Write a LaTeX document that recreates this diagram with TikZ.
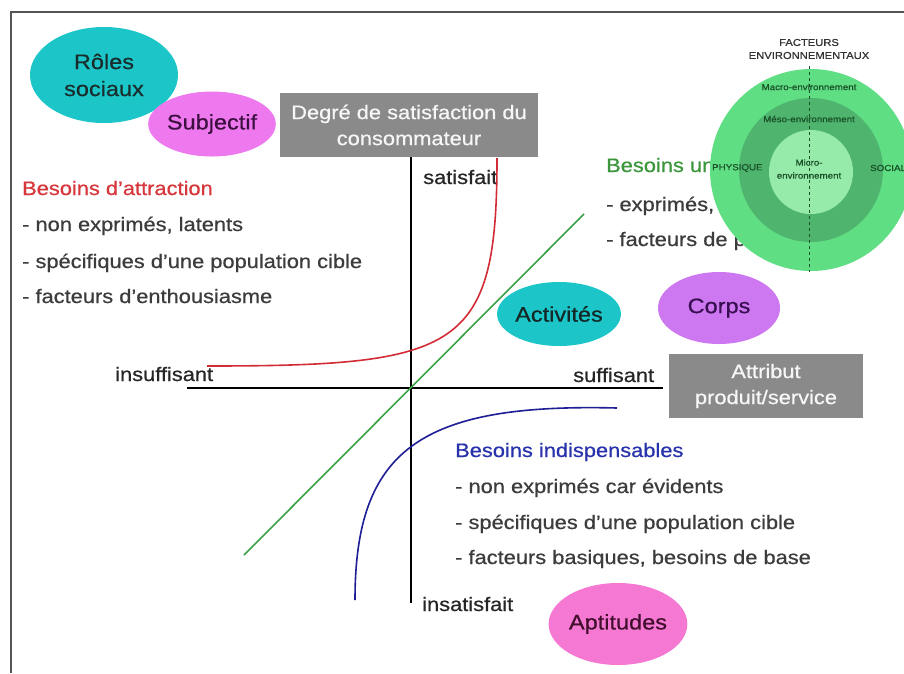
\documentclass[tikz,border=0pt]{standalone}
\usepackage{fontspec}
\setmainfont{Liberation Sans}[FakeStretch=1.12,FakeBold=0.6]
\usetikzlibrary{shapes.geometric}
\definecolor{framec}{RGB}{85,85,85}
\definecolor{bodyc}{RGB}{60,60,60}
\definecolor{redc}{RGB}{215,55,60}
\definecolor{greenc}{RGB}{60,150,60}
\definecolor{bluec}{RGB}{40,50,170}
\definecolor{redcurve}{RGB}{210,45,55}
\definecolor{bluecurve}{RGB}{30,30,150}
\definecolor{greenline}{RGB}{60,160,70}
\definecolor{tealc}{RGB}{28,198,200}
\definecolor{magc}{RGB}{238,120,238}
\definecolor{lavc}{RGB}{205,120,240}
\definecolor{pinkc}{RGB}{245,120,210}
\definecolor{grayboxc}{RGB}{138,138,138}
\definecolor{outerg}{RGB}{95,222,132}
\definecolor{midg}{RGB}{78,180,110}
\definecolor{innerg}{RGB}{150,234,170}
\definecolor{darkg}{RGB}{25,80,40}
\newcommand{\fsmain}{\fontsize{19.5}{26}\selectfont}
\newcommand{\fsell}{\fontsize{21}{27}\selectfont}
\newcommand{\fssmall}{\fontsize{10}{13}\selectfont}
\newcommand{\fstiny}{\fontsize{8.7}{13}\selectfont}
\tikzset{
  txt/.style={inner sep=0pt, anchor=base west, font=\fsmain, text=bodyc},
  ell/.style={ellipse, inner sep=0pt, align=center, font=\fsell},
  graybox/.style={rectangle, fill=grayboxc, inner sep=0pt, align=center, font=\fsmain, text=white!94!gray},
  envtxt/.style={inner sep=0pt, anchor=center, font=\fstiny, text=darkg, align=center},
}
\begin{document}
\begin{tikzpicture}[x=1pt,y=-1pt]
\useasboundingbox (0,0) rectangle (904,673);
\fill[white] (0,0) rectangle (904,673);
\draw[framec, line width=2pt] (11,673) -- (11,12) -- (904,12);

% ellipses
\node[ell, fill=tealc, minimum width=148, minimum height=96, text={rgb,255:red,25;green,45;blue,45}] (roles) at (104,75) {Rôles\\sociaux};
\node[ell, fill=magc, minimum width=121, minimum height=65, text={rgb,255:red,60;green,15;blue,65}] (subj) at (212,124) {Subjectif};
\node[ell, fill=tealc, minimum width=105, minimum height=64, text={rgb,255:red,20;green,40;blue,40}] (activ) at (559,314) {Activités};
\node[ell, fill=lavc, minimum width=122, minimum height=72, text={rgb,255:red,55;green,15;blue,80}] (corps) at (719,308) {Corps};
\node[ell, fill=pinkc, minimum width=129, minimum height=82, text={rgb,255:red,65;green,15;blue,45}] (apt) at (618,624) {Aptitudes};

% gray boxes
\node[graybox, minimum width=258, minimum height=64] (ybox) at (409,125) {Degré de satisfaction du\\consommateur};
\node[graybox, minimum width=194, minimum height=64] (xbox) at (766,386) {Attribut\\produit/service};

% axes
\coordinate (vt) at (411,157);
\coordinate (vb) at (411,603);
\coordinate (hl) at (187,388);
\coordinate (hr) at (663,388);
\draw[black, line width=1.2pt] (vt) -- (vb);
\draw[black, line width=1.2pt] (hl) -- (hr);

% axis labels
\node[txt, text=black!85] (satis) at (423,184) {satisfait};
\node[txt, text=black!85] (insuf) at (115,381) {insuffisant};
\node[txt, text=black!85] (suff) at (573,382) {suffisant};
\node[txt, text=black!85] (insat) at (422,611) {insatisfait};

% green diagonal
\coordinate (g1) at (244,555);
\coordinate (g2) at (584,214);
\draw[greenline, line width=1.6pt] (g1) -- (g2);

% red curve
\coordinate (r1) at (207,366);
\coordinate (r2) at (497,158);
\draw[redcurve, line width=1.6pt] (r1) .. controls (460,366) and (497,350) .. (r2);

% blue curve
\coordinate (b1) at (355,600);
\coordinate (b2) at (617,408);
\draw[bluecurve, line width=1.6pt] (b1) .. controls (355,450) and (420,403) .. (b2);

% besoins d'attraction
\node[txt, text=redc] (att0) at (22,195) {Besoins d’attraction};
\node[txt] (att1) at (22,231) {- non exprimés, latents};
\node[txt] (att2) at (22,268) {- spécifiques d’une population cible};
\node[txt] (att3) at (22,303) {- facteurs d’enthousiasme};

% besoins indispensables
\node[txt, text=bluec] (ind0) at (455,457) {Besoins indispensables};
\node[txt] (ind1) at (455,493) {- non exprimés car évidents};
\node[txt] (ind2) at (455,529) {- spécifiques d’une population cible};
\node[txt] (ind3) at (455,564) {- facteurs basiques, besoins de base};

% besoins (green), partly hidden by the circle
\node[txt, text=greenc] (uni0) at (606,172) {Besoins unidimensionnels};
\node[txt] (uni1) at (606,211) {- exprimés, conscients};
\node[txt] (uni2) at (606,246) {- facteurs de performance};

% environment circles
\node[circle, fill=outerg, minimum size=202, inner sep=0pt] (outer) at (811,170) {};
\node[circle, fill=midg, minimum size=144, inner sep=0pt] (mid) at (811,170) {};
\node[circle, fill=innerg, minimum size=84, inner sep=0pt] (inner) at (811,172) {};
\coordinate (dt) at (809,66);
\coordinate (db) at (809,272);
\draw[darkg, dashed, line width=0.8pt] (dt) -- (db);
\node[envtxt, font=\fssmall, text=black!80] (fact) at (809,49) {FACTEURS\\ENVIRONNEMENTAUX};
\node[envtxt] (macro) at (809,87) {Macro-environnement};
\node[envtxt] (meso) at (809,119) {Méso-environnement};
\node[envtxt] (micro) at (809,169) {Micro-\\environnement};
\node[envtxt, anchor=west] (phys) at (712,168) {PHYSIQUE};
\node[envtxt, anchor=west] (soc) at (870,168) {SOCIAL};
\end{tikzpicture}
\end{document}
